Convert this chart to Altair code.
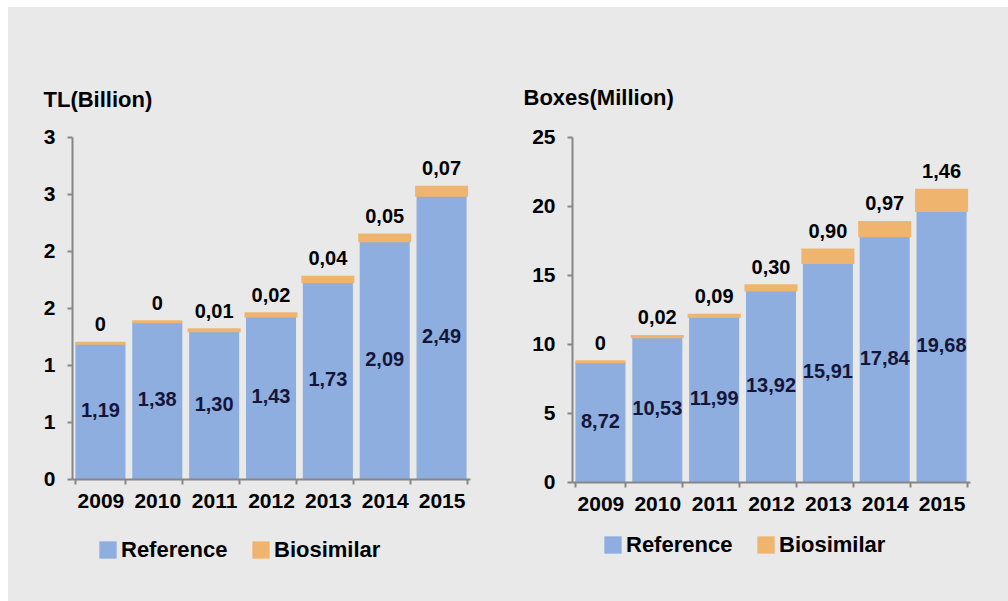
import altair as alt
import pandas as pd

years = ["2009", "2010", "2011", "2012", "2013", "2014", "2015"]
tl_reference = [1.19, 1.38, 1.30, 1.43, 1.73, 2.09, 2.49]
tl_biosimilar = [0, 0, 0.01, 0.02, 0.04, 0.05, 0.07]
box_reference = [8.72, 10.53, 11.99, 13.92, 15.91, 17.84, 19.68]
box_biosimilar = [0, 0.02, 0.09, 0.30, 0.90, 0.97, 1.46]
tl_ticks = [0, 0.5, 1, 1.5, 2, 2.5, 3]
box_ticks = [0, 5, 10, 15, 20, 25]
series = ["Reference", "Biosimilar"]

BLUE = "#8DAEDE"
ORANGE = "#EFB56F"
BG = "#E9E9E9"
FONT = "Liberation Sans"


def panel(ref, bio, title, domain, ticks, fmt, title_x, title_y, leg_x, leg_y, height,
          backdrop=False):
    df = pd.DataFrame({"year": years, "ref": ref, "bio": bio})
    base = alt.Chart(df).transform_calculate(
        total="datum.ref + datum.bio",
        mid="datum.ref / 2",
        reflab="replace(format(datum.ref, '.2f'), '.', ',')",
        biolab="datum.bio == 0 ? '0' : replace(format(datum.bio, '.2f'), '.', ',')",
    )
    xenc = alt.X(
        "year:N",
        title=None,
        scale=alt.Scale(paddingInner=0.12, paddingOuter=0.06),
        axis=alt.Axis(labelAngle=0, tickBand="extent", labelPadding=6, labelFontSize=21,
                      zindex=1),
    )
    yscale = alt.Scale(domain=domain, nice=False, zero=True)
    yaxis = alt.Axis(
        values=ticks, format=fmt, title=title, titleAngle=0, titleAlign="left",
        titleBaseline="middle", titleX=title_x, titleY=title_y, titleFontSize=22,
        labelPadding=12, grid=False, zindex=1,
    )
    cscale = alt.Scale(domain=series, range=[BLUE, ORANGE])
    legend = alt.Legend(
        orient="none", legendX=leg_x, legendY=leg_y, direction="horizontal", title=None,
        symbolType="square", symbolSize=300, labelFontSize=22, labelFontWeight="bold",
        columnPadding=22, labelOffset=2, symbolStrokeWidth=0, labelColor="black", zindex=1,
    )
    ref_bar = base.transform_calculate(s="'Reference'").mark_bar().encode(
        x=xenc,
        y=alt.Y("ref:Q", scale=yscale, axis=yaxis),
        color=alt.Color("s:N", scale=cscale, legend=legend),
    )
    bio_bar = base.transform_calculate(s="'Biosimilar'").mark_bar(
        stroke=ORANGE, strokeWidth=3
    ).encode(
        x=xenc,
        y=alt.Y("ref:Q", scale=yscale, axis=yaxis),
        y2="total:Q",
        color=alt.Color("s:N", scale=cscale, legend=legend),
    )
    ref_text = base.mark_text(
        font=FONT, fontSize=20, fontWeight="bold", color="#15153A", baseline="middle"
    ).encode(x=xenc, y=alt.Y("mid:Q", scale=yscale, axis=yaxis), text="reflab:N")
    bio_text = base.mark_text(
        font=FONT, fontSize=20, fontWeight="bold", color="black", baseline="middle", dy=-18
    ).encode(x=xenc, y=alt.Y("total:Q", scale=yscale, axis=yaxis), text="biolab:N")
    layers = [ref_bar, bio_bar, ref_text, bio_text]
    if backdrop:
        # grey panel behind both charts, leaving a thin white margin top and left
        bg = alt.Chart(pd.DataFrame({"k": [0]})).mark_rect(color=BG).encode(
            x=alt.value(-64), x2=alt.value(936), y=alt.value(-130), y2=alt.value(470)
        )
        layers = [bg] + layers
    return alt.layer(*layers).properties(width=398, height=height)


left = panel(tl_reference, tl_biosimilar, "TL(Billion)", [0, 3], tl_ticks, ".0f",
             -29, -38, 25, 402, 342, backdrop=True)
right = panel(box_reference, box_biosimilar, "Boxes(Million)", [0, 25], box_ticks, "d",
              -49, -40, 30, 397, 345)

chart = (
    alt.hconcat(left, right, spacing=102, bounds="flush")
    .resolve_scale(color="independent")
    .resolve_legend(color="independent")
    .properties(background="white", padding={"left": 8, "top": 7, "right": 0, "bottom": 0})
    .configure_view(stroke=None)
    .configure_axis(
        labelFont=FONT, labelFontWeight="bold", labelColor="black", labelFontSize=21,
        titleFont=FONT, titleFontWeight="bold", titleColor="black",
        domainColor="#868686", domainWidth=2, tickColor="#868686", tickWidth=2, tickSize=5,
    )
    .configure_legend(labelFont=FONT)
)

chart.save("out.html", embed_options={"renderer": "svg", "actions": False})
